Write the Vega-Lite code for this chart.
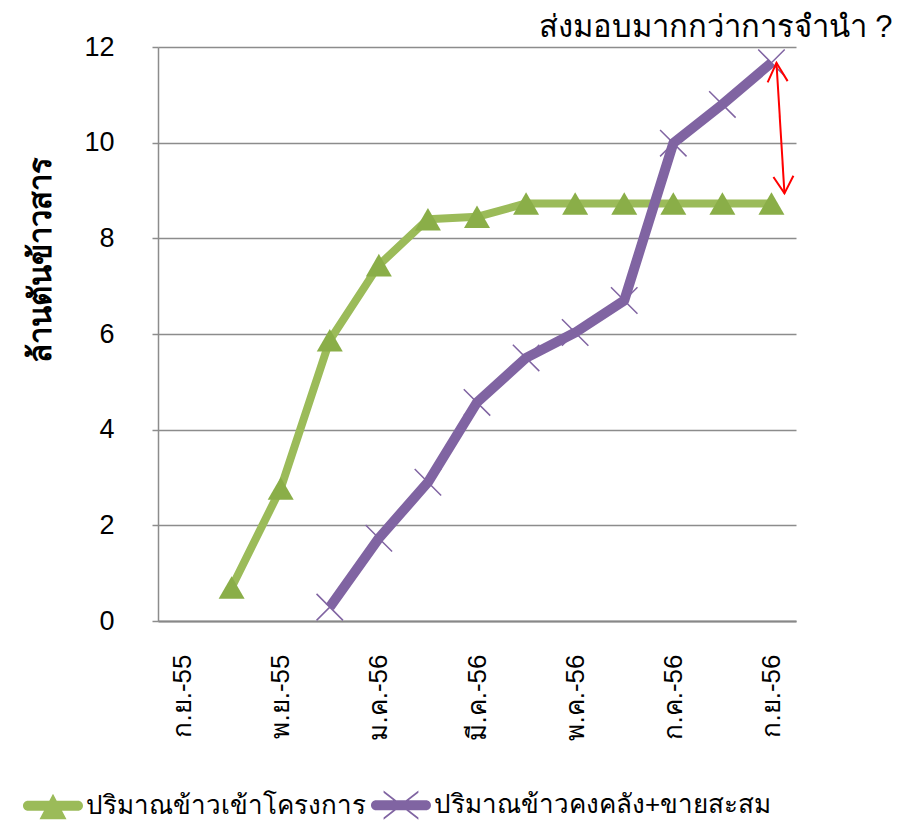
{
  "$schema": "https://vega.github.io/schema/vega-lite/v6.json",
  "autosize": "none",
  "width": 638,
  "height": 574,
  "padding": {"left": 158, "top": 47, "right": 121, "bottom": 200},
  "background": "white",
  "config": {
    "font": "Liberation Sans, Arial, sans-serif",
    "view": {"stroke": null}
  },
  "datasets": {
    "main": [
      {"month": "ต.ค.-55", "series": "ปริมาณข้าวเข้าโครงการ", "value": 0.7},
      {"month": "พ.ย.-55", "series": "ปริมาณข้าวเข้าโครงการ", "value": 2.77},
      {"month": "ธ.ค.-55", "series": "ปริมาณข้าวเข้าโครงการ", "value": 5.87},
      {"month": "ม.ค.-56", "series": "ปริมาณข้าวเข้าโครงการ", "value": 7.44},
      {"month": "ก.พ.-56", "series": "ปริมาณข้าวเข้าโครงการ", "value": 8.4},
      {"month": "มี.ค.-56", "series": "ปริมาณข้าวเข้าโครงการ", "value": 8.45},
      {"month": "เม.ย.-56", "series": "ปริมาณข้าวเข้าโครงการ", "value": 8.73},
      {"month": "พ.ค.-56", "series": "ปริมาณข้าวเข้าโครงการ", "value": 8.73},
      {"month": "มิ.ย.-56", "series": "ปริมาณข้าวเข้าโครงการ", "value": 8.73},
      {"month": "ก.ค.-56", "series": "ปริมาณข้าวเข้าโครงการ", "value": 8.73},
      {"month": "ส.ค.-56", "series": "ปริมาณข้าวเข้าโครงการ", "value": 8.73},
      {"month": "ก.ย.-56", "series": "ปริมาณข้าวเข้าโครงการ", "value": 8.73},
      {"month": "ธ.ค.-55", "series": "ปริมาณข้าวคงคลัง+ขายสะสม", "value": 0.29},
      {"month": "ม.ค.-56", "series": "ปริมาณข้าวคงคลัง+ขายสะสม", "value": 1.73},
      {"month": "ก.พ.-56", "series": "ปริมาณข้าวคงคลัง+ขายสะสม", "value": 2.9},
      {"month": "มี.ค.-56", "series": "ปริมาณข้าวคงคลัง+ขายสะสม", "value": 4.57},
      {"month": "เม.ย.-56", "series": "ปริมาณข้าวคงคลัง+ขายสะสม", "value": 5.5},
      {"month": "พ.ค.-56", "series": "ปริมาณข้าวคงคลัง+ขายสะสม", "value": 6.03},
      {"month": "มิ.ย.-56", "series": "ปริมาณข้าวคงคลัง+ขายสะสม", "value": 6.7},
      {"month": "ก.ค.-56", "series": "ปริมาณข้าวคงคลัง+ขายสะสม", "value": 9.99},
      {"month": "ส.ค.-56", "series": "ปริมาณข้าวคงคลัง+ขายสะสม", "value": 10.8},
      {"month": "ก.ย.-56", "series": "ปริมาณข้าวคงคลัง+ขายสะสม", "value": 11.67}
    ],
    "gap": [
      {"month": "ก.ย.-56", "top": 11.67, "bottom": 8.94}
    ],
    "note": [
      {"month": "ก.ย.-56", "value": 12.21, "label": "ส่งมอบมากกว่าการจำนำ ?"}
    ]
  },
  "data": {"name": "main"},
  "encoding": {
    "x": {
      "field": "month",
      "type": "ordinal",
      "scale": {
        "type": "point",
        "padding": 0.5,
        "domain": ["ก.ย.-55", "ต.ค.-55", "พ.ย.-55", "ธ.ค.-55", "ม.ค.-56", "ก.พ.-56", "มี.ค.-56", "เม.ย.-56", "พ.ค.-56", "มิ.ย.-56", "ก.ค.-56", "ส.ค.-56", "ก.ย.-56"]
      },
      "axis": {
        "title": null,
        "values": ["ก.ย.-55", "พ.ย.-55", "ม.ค.-56", "มี.ค.-56", "พ.ค.-56", "ก.ค.-56", "ก.ย.-56"],
        "labelAngle": -90,
        "ticks": false,
        "labelPadding": 33,
        "labelFontSize": 26,
        "labelColor": "#000000",
        "domainColor": "#888888",
        "domainWidth": 2,
        "grid": false
      }
    },
    "y": {
      "field": "value",
      "type": "quantitative",
      "scale": {"domain": [0, 12], "nice": false, "zero": true},
      "axis": {
        "values": [0, 2, 4, 6, 8, 10, 12],
        "grid": true,
        "gridColor": "#8c8c8c",
        "gridWidth": 1.5,
        "domainColor": "#8c8c8c",
        "domainWidth": 1.5,
        "tickColor": "#8c8c8c",
        "tickWidth": 1.5,
        "tickSize": 6,
        "labelFontSize": 27,
        "labelPadding": 38,
        "labelColor": "#000000",
        "title": "ล้านตันข้าวสาร",
        "titleFontSize": 31,
        "titleFontWeight": "bold",
        "titleColor": "#000000",
        "titleAngle": -90,
        "titleAlign": "center",
        "titleBaseline": "middle",
        "titleX": -117,
        "titleY": 212
      }
    }
  },
  "layer": [
    {
      "transform": [{"filter": "datum.series === 'ปริมาณข้าวเข้าโครงการ'"}],
      "mark": {"type": "line", "strokeWidth": 8, "strokeJoin": "round"},
      "encoding": {
        "color": {
          "field": "series",
          "type": "nominal",
          "scale": {
            "domain": ["ปริมาณข้าวเข้าโครงการ", "ปริมาณข้าวคงคลัง+ขายสะสม"],
            "range": ["#9BBB59", "#8064A2"]
          },
          "legend": {
            "title": null,
            "orient": "none",
            "direction": "horizontal",
            "legendX": -135,
            "legendY": 728,
            "padding": 0,
            "symbolSize": 3600,
            "labelFontSize": 26,
            "labelColor": "#000000",
            "labelOffset": 3,
            "columnPadding": 5,
            "labelLimit": 500,
            "encode": {
              "symbols": {
                "update": {
                  "shape": {"signal": "datum.value === 'ปริมาณข้าวเข้าโครงการ' ? 'M-0.833,-0.167L0.833,-0.167A0.167,0.167 0 0 1 0.833,0.167L-0.833,0.167A0.167,0.167 0 0 1 -0.833,-0.167Z M0,-0.4L0.45,0.45L-0.45,0.45Z' : 'M-0.833,-0.167L0.833,-0.167A0.167,0.167 0 0 1 0.833,0.167L-0.833,0.167A0.167,0.167 0 0 1 -0.833,-0.167Z M-0.58,-0.49L0.58,0.41L0.58,0.49L-0.58,-0.41Z M-0.58,0.41L0.58,-0.49L0.58,-0.41L-0.58,0.49Z'"},
                  "fill": {"signal": "datum.value === 'ปริมาณข้าวเข้าโครงการ' ? '#9BBB59' : '#8064A2'"},
                  "stroke": {"value": "transparent"},
                  "strokeWidth": {"value": 0},
                  "size": {"value": 3600},
                  "opacity": {"value": 1}
                }
              }
            }
          }
        }
      }
    },
    {
      "transform": [{"filter": "datum.series === 'ปริมาณข้าวเข้าโครงการ'"}],
      "mark": {"type": "point", "shape": "triangle-up", "filled": true, "size": 676, "color": "#8AAE48", "opacity": 1}
    },
    {
      "transform": [{"filter": "datum.series === 'ปริมาณข้าวคงคลัง+ขายสะสม'"}],
      "mark": {"type": "line", "strokeWidth": 10, "strokeJoin": "round"},
      "encoding": {
        "color": {"field": "series", "type": "nominal"}
      }
    },
    {
      "transform": [{"filter": "datum.series === 'ปริมาณข้าวคงคลัง+ขายสะสม'"}],
      "mark": {"type": "point", "shape": "M-1,-1L1,1M-1,1L1,-1", "filled": false, "size": 700, "stroke": "#8064A2", "strokeWidth": 1.5, "opacity": 1}
    },
    {
      "data": {"name": "gap"},
      "mark": {"type": "rule", "color": "#FF0000", "strokeWidth": 2, "xOffset": 5, "x2Offset": 13},
      "encoding": {
        "x": {"field": "month", "type": "ordinal"},
        "x2": {"field": "month"},
        "y": {"field": "top", "type": "quantitative"},
        "y2": {"field": "bottom"}
      }
    },
    {
      "data": {"name": "gap"},
      "mark": {"type": "point", "shape": "M-1,1.9L0,0L1,1.9", "filled": false, "size": 400, "stroke": "#FF0000", "strokeWidth": 2, "opacity": 1, "angle": -3.5, "xOffset": 5},
      "encoding": {
        "x": {"field": "month", "type": "ordinal"},
        "y": {"field": "top", "type": "quantitative"}
      }
    },
    {
      "data": {"name": "gap"},
      "mark": {"type": "point", "shape": "M-1,-1.7L0,0L1,-1.7", "filled": false, "size": 400, "stroke": "#FF0000", "strokeWidth": 2, "opacity": 1, "angle": -3.5, "xOffset": 13},
      "encoding": {
        "x": {"field": "month", "type": "ordinal"},
        "y": {"field": "bottom", "type": "quantitative"}
      }
    },
    {
      "data": {"name": "note"},
      "mark": {"type": "text", "align": "right", "baseline": "alphabetic", "dx": 121, "fontSize": 31, "color": "#000000"},
      "encoding": {
        "x": {"field": "month", "type": "ordinal"},
        "y": {"field": "value", "type": "quantitative"},
        "text": {"field": "label"}
      }
    }
  ]
}
